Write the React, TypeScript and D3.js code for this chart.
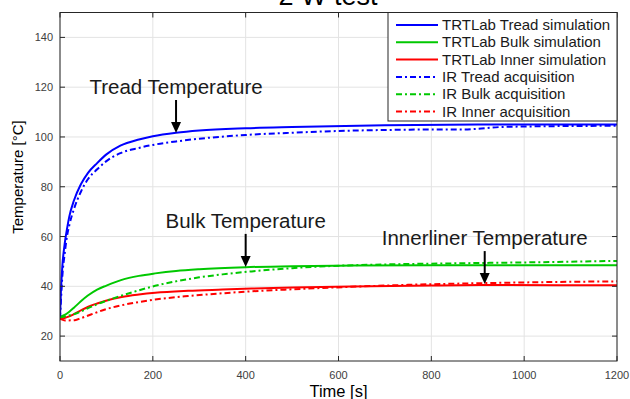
import React from "react";
import * as d3 from "d3";

// time samples [s] and temperatures [°C]
const blueSimT = [0, 2, 5, 10, 15, 20, 30, 45, 60, 80, 100, 130, 170, 200, 250, 300, 400, 500, 700, 900, 1200];
const blueSimV = [27.5, 38, 48, 57, 63, 68, 74.5, 81, 85.5, 89.5, 93, 96.5, 99, 100.3, 101.7, 102.6, 103.5, 104, 104.7, 105, 105];

const blueIrT = [0, 2, 5, 10, 15, 20, 30, 45, 60, 80, 100, 130, 170, 200, 250, 300, 400, 500, 600, 700, 800, 870, 900, 950, 1000, 1100, 1200];
const blueIrV = [27, 34, 44, 53, 60, 64.5, 71, 78, 83, 87, 90.3, 93.5, 95.6, 96.8, 98.2, 99.3, 100.8, 101.7, 102.4, 102.8, 103, 103, 103.3, 104, 104.2, 104.4, 104.5];

const greenSimT = [0, 10, 20, 30, 45, 60, 80, 100, 133, 170, 205, 250, 300, 400, 500, 600, 800, 1000, 1200];
const greenSimV = [27.8, 28.5, 29.8, 31.4, 34, 36.3, 38.7, 40.3, 42.6, 44.2, 45.2, 46.2, 46.9, 47.7, 48.1, 48.3, 48.5, 48.5, 48.5];

const greenIrT = [0, 20, 40, 60, 80, 100, 133, 170, 205, 250, 300, 350, 413, 500, 605, 700, 800, 917, 1000, 1100, 1200];
const greenIrV = [27.5, 28.3, 29.5, 31.2, 32.8, 34.2, 36.3, 38.4, 40.2, 42, 43.6, 44.8, 46, 47.3, 48.3, 48.8, 49.1, 49.4, 49.6, 49.9, 50.2];

const redSimT = [0, 10, 20, 32, 45, 61, 80, 97, 133, 170, 205, 276, 350, 413, 500, 627, 800, 917, 1200];
const redSimV = [27, 27.3, 27.9, 29, 30.3, 31.8, 33.1, 34.1, 35.7, 36.7, 37.4, 38.2, 38.7, 39.1, 39.5, 39.9, 40.3, 40.5, 40.4];

const redIrT = [0, 5, 11, 32, 45, 61, 80, 97, 133, 170, 205, 276, 350, 413, 500, 627, 750, 917, 1050, 1200];
const redIrV = [27, 26.6, 26.3, 26.4, 27.2, 28.3, 29.6, 30.7, 32.4, 33.7, 34.7, 36.1, 37.2, 38, 38.8, 39.8, 40.6, 41.3, 41.7, 42];

const seriesNames = [
  "TRTLab Tread simulation",
  "TRTLab Bulk simulation",
  "TRTLab Inner simulation",
  "IR Tread acquisition",
  "IR Bulk acquisition",
  "IR Inner acquisition",
];
const seriesColors = ["#0000ff", "#00c800", "#ff0000", "#0000ff", "#00c800", "#ff0000"];
const seriesDashed = [false, false, false, true, true, true];
const seriesT = [blueSimT, greenSimT, redSimT, blueIrT, greenIrT, redIrT];
const seriesV = [blueSimV, greenSimV, redSimV, blueIrV, greenIrV, redIrV];

const xTicks = [0, 200, 400, 600, 800, 1000, 1200];
const yTicks = [20, 40, 60, 80, 100, 120, 140];

const annotLabels = ["Tread Temperature", "Bulk Temperature", "Innerliner Temperature"];
const annotT = [250, 400, 915];
const annotV = [101.6, 47.8, 40.9];

const W = 630;
const H = 399;
const plot = { left: 60, right: 617, top: 12.5, bottom: 361 };
const font = "'Liberation Sans', Arial, sans-serif";
const dashDot = "6,3,2,3";

export default function App() {
  const x = d3.scaleLinear().domain([0, 1200]).range([plot.left, plot.right]);
  const y = d3.scaleLinear().domain([10, 150]).range([plot.bottom, plot.top]);

  const line = d3
    .line<[number, number]>()
    .x((d) => x(d[0]))
    .y((d) => y(d[1]))
    .curve(d3.curveMonotoneX);

  const legend = { x: 388, y: plot.top, w: plot.right - 388, h: 108.5 };

  return (
    <svg
      width={W}
      height={H}
      style={{ position: "absolute", left: 0, top: 0, background: "#fff" }}
      fontFamily={font}
    >
      <defs>
        <clipPath id="plotClip">
          <rect x={plot.left} y={plot.top} width={plot.right - plot.left} height={plot.bottom - plot.top} />
        </clipPath>
      </defs>

      {/* title, mostly cut off at the top */}
      <text x={328} y={5} fontSize={27} textAnchor="middle" fill="#000">
        2 W test
      </text>

      {/* grid */}
      {xTicks.map((t) => (
        <line key={"gx" + t} x1={x(t)} x2={x(t)} y1={plot.top} y2={plot.bottom} stroke="#e3e3e3" />
      ))}
      {yTicks.map((v) => (
        <line key={"gy" + v} x1={plot.left} x2={plot.right} y1={y(v)} y2={y(v)} stroke="#e3e3e3" />
      ))}

      {/* series */}
      <g clipPath="url(#plotClip)">
        {seriesNames.map((name, i) => (
          <path
            key={name}
            d={line(seriesT[i].map((t, j) => [t, seriesV[i][j]]) as [number, number][]) || ""}
            fill="none"
            stroke={seriesColors[i]}
            strokeWidth={2}
            strokeDasharray={seriesDashed[i] ? dashDot : undefined}
          />
        ))}
      </g>

      {/* box and ticks */}
      <rect
        x={plot.left}
        y={plot.top}
        width={plot.right - plot.left}
        height={plot.bottom - plot.top}
        fill="none"
        stroke="#262626"
      />
      {xTicks.map((t) => (
        <g key={"tx" + t}>
          <line x1={x(t)} x2={x(t)} y1={plot.bottom} y2={plot.bottom - 5} stroke="#262626" />
          <line x1={x(t)} x2={x(t)} y1={plot.top} y2={plot.top + 5} stroke="#262626" />
          <text x={x(t)} y={379} fontSize={11} textAnchor="middle" fill="#404040">
            {t}
          </text>
        </g>
      ))}
      {yTicks.map((v) => (
        <g key={"ty" + v}>
          <line x1={plot.left} x2={plot.left + 5} y1={y(v)} y2={y(v)} stroke="#262626" />
          <line x1={plot.right} x2={plot.right - 5} y1={y(v)} y2={y(v)} stroke="#262626" />
          <text x={53} y={y(v) + 4} fontSize={11} textAnchor="end" fill="#404040">
            {v}
          </text>
        </g>
      ))}

      {/* axis labels */}
      <text x={(plot.left + plot.right) / 2} y={397} fontSize={16.5} textAnchor="middle" fill="#000">
        Time [s]
      </text>
      <text
        transform={`translate(23, 177) rotate(-90)`}
        fontSize={15}
        textAnchor="middle"
        fill="#000"
      >
        Temperature [°C]
      </text>

      {/* annotations */}
      {annotLabels.map((label, i) => {
        const ax = x(annotT[i]);
        const tipY = y(annotV[i]);
        const topY = tipY - 33;
        return (
          <g key={label}>
            <text x={ax} y={topY - 6} fontSize={20.5} textAnchor="middle" fill="#1a1a1a">
              {label}
            </text>
            <line x1={ax} x2={ax} y1={topY} y2={tipY - 8} stroke="#000" strokeWidth={2} />
            <path d={`M${ax - 5},${tipY - 11} L${ax + 5},${tipY - 11} L${ax},${tipY} Z`} fill="#000" />
          </g>
        );
      })}

      {/* legend */}
      <rect x={legend.x} y={legend.y} width={legend.w} height={legend.h} fill="#fff" stroke="#262626" />
      {seriesNames.map((name, i) => {
        const ry = legend.y + 12.5 + i * 17.3;
        return (
          <g key={"lg" + name}>
            <line
              x1={396}
              x2={438}
              y1={ry}
              y2={ry}
              stroke={seriesColors[i]}
              strokeWidth={2}
              strokeDasharray={seriesDashed[i] ? dashDot : undefined}
            />
            <text x={442} y={ry + 5} fontSize={15} fill="#1a1a1a">
              {name}
            </text>
          </g>
        );
      })}
    </svg>
  );
}
